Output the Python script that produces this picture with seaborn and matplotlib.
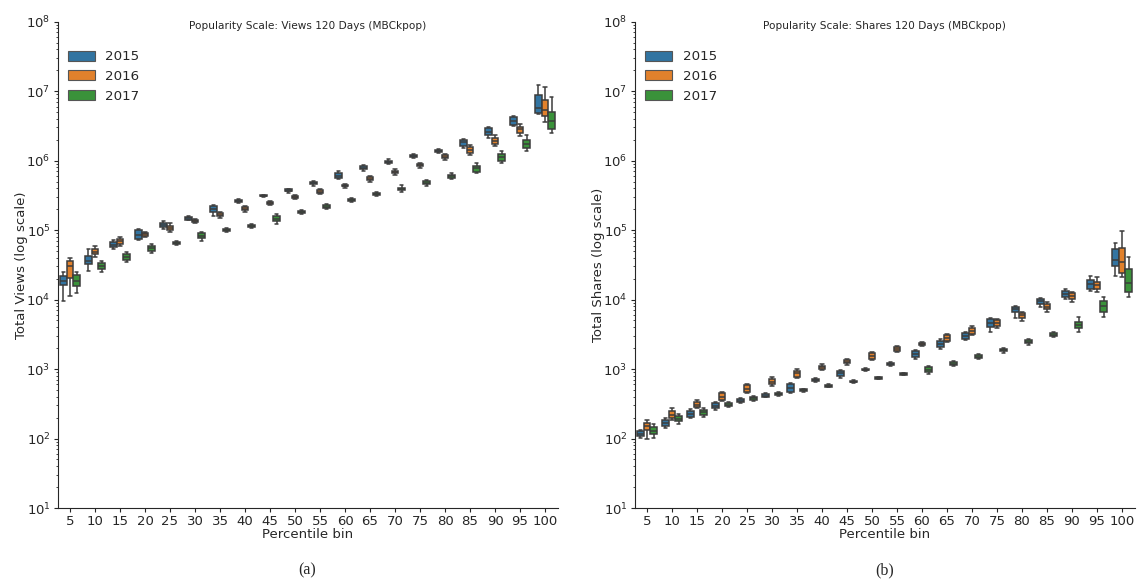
import matplotlib
matplotlib.use("Agg")
import matplotlib.pyplot as plt
from matplotlib.patches import Patch
from matplotlib.ticker import LogLocator, NullFormatter
import pandas as pd
import seaborn as sns

# Percentile bins on the x axis and the upload years used as hue
BINS = ["5", "10", "15", "20", "25", "30", "35", "40", "45", "50",
        "55", "60", "65", "70", "75", "80", "85", "90", "95", "100"]
YEARS = ["2015", "2016", "2017"]

# Five-number summaries per bin: (low whisker, Q1, median, Q3, high whisker)
VIEWS_2015 = [
    (9.5e3, 1.62e4, 1.87e4, 2.2e4, 2.48e4), (2.6e4, 3.23e4, 3.64e4, 4.26e4, 5.3e4),
    (5.4e4, 5.7e4, 6.2e4, 6.8e4, 7.1e4), (7.1e4, 7.4e4, 8.6e4, 1.0e5, 1.05e5),
    (1.04e5, 1.1e5, 1.17e5, 1.26e5, 1.36e5), (1.38e5, 1.42e5, 1.48e5, 1.54e5, 1.58e5),
    (1.62e5, 1.85e5, 2.04e5, 2.23e5, 2.3e5), (2.45e5, 2.55e5, 2.63e5, 2.72e5, 2.82e5),
    (3.0e5, 3.08e5, 3.13e5, 3.17e5, 3.22e5), (3.45e5, 3.6e5, 3.7e5, 3.85e5, 3.95e5),
    (4.35e5, 4.55e5, 4.73e5, 4.95e5, 5.1e5), (5.4e5, 5.65e5, 6.1e5, 6.6e5, 7.2e5),
    (7.2e5, 7.55e5, 7.9e5, 8.3e5, 8.7e5), (8.9e5, 9.3e5, 9.6e5, 1.0e6, 1.04e6),
    (1.08e6, 1.12e6, 1.16e6, 1.2e6, 1.24e6), (1.27e6, 1.32e6, 1.37e6, 1.43e6, 1.48e6),
    (1.51e6, 1.65e6, 1.84e6, 1.95e6, 2.07e6), (2.1e6, 2.34e6, 2.61e6, 2.92e6, 3.02e6),
    (3.16e6, 3.27e6, 3.72e6, 4.21e6, 4.35e6), (4.65e6, 4.8e6, 5.67e6, 8.85e6, 1.23e7),
]
VIEWS_2016 = [
    (1.14e4, 2.07e4, 3.05e4, 3.64e4, 4.0e4), (4.16e4, 4.5e4, 4.9e4, 5.3e4, 5.9e4),
    (5.9e4, 6.3e4, 7.0e4, 7.4e4, 7.9e4), (7.9e4, 8.3e4, 8.7e4, 9.0e4, 9.4e4),
    (9.5e4, 1.0e5, 1.09e5, 1.16e5, 1.26e5), (1.27e5, 1.31e5, 1.36e5, 1.41e5, 1.45e5),
    (1.5e5, 1.58e5, 1.66e5, 1.74e5, 1.82e5), (1.85e5, 1.95e5, 2.04e5, 2.12e5, 2.22e5),
    (2.3e5, 2.4e5, 2.46e5, 2.52e5, 2.6e5), (2.78e5, 2.88e5, 2.97e5, 3.08e5, 3.18e5),
    (3.3e5, 3.45e5, 3.58e5, 3.72e5, 3.85e5), (4.1e5, 4.25e5, 4.36e5, 4.5e5, 4.62e5),
    (5.0e5, 5.2e5, 5.46e5, 5.75e5, 5.95e5), (6.3e5, 6.6e5, 6.9e5, 7.2e5, 7.5e5),
    (7.9e5, 8.25e5, 8.6e5, 9.0e5, 9.4e5), (1.03e6, 1.09e6, 1.14e6, 1.19e6, 1.24e6),
    (1.21e6, 1.28e6, 1.43e6, 1.58e6, 1.68e6), (1.63e6, 1.74e6, 1.94e6, 2.14e6, 2.34e6),
    (2.29e6, 2.53e6, 2.83e6, 3.08e6, 3.4e6), (3.57e6, 4.4e6, 5.37e6, 7.46e6, 1.16e7),
]
VIEWS_2017 = [
    (1.23e4, 1.57e4, 1.87e4, 2.26e4, 2.48e4), (2.5e4, 2.8e4, 3.08e4, 3.4e4, 3.64e4),
    (3.52e4, 3.73e4, 4.1e4, 4.55e4, 4.8e4), (4.74e4, 5.0e4, 5.5e4, 6.0e4, 6.27e4),
    (6.2e4, 6.4e4, 6.6e4, 6.8e4, 7.0e4), (7.06e4, 7.67e4, 8.3e4, 9.06e4, 9.5e4),
    (9.5e4, 9.75e4, 1.0e5, 1.03e5, 1.06e5), (1.08e5, 1.12e5, 1.16e5, 1.2e5, 1.24e5),
    (1.23e5, 1.34e5, 1.46e5, 1.6e5, 1.69e5), (1.68e5, 1.74e5, 1.81e5, 1.89e5, 1.95e5),
    (2.02e5, 2.1e5, 2.18e5, 2.27e5, 2.35e5), (2.52e5, 2.6e5, 2.69e5, 2.78e5, 2.86e5),
    (3.1e5, 3.2e5, 3.32e5, 3.45e5, 3.55e5), (3.55e5, 3.75e5, 3.92e5, 4.1e5, 4.4e5),
    (4.3e5, 4.55e5, 4.78e5, 5.1e5, 5.35e5), (5.5e5, 5.7e5, 5.96e5, 6.3e5, 6.55e5),
    (6.6e5, 6.95e5, 7.8e5, 8.47e5, 9.2e5), (9.2e5, 1.0e6, 1.12e6, 1.25e6, 1.38e6),
    (1.39e6, 1.54e6, 1.72e6, 1.99e6, 2.32e6), (2.48e6, 2.83e6, 3.77e6, 5.07e6, 8.34e6),
]

SHARES_2015 = [
    (101, 107, 118, 129, 133), (141, 152, 166, 182, 196),
    (196, 207, 227, 245, 264), (259, 274, 298, 324, 334),
    (325, 338, 352, 368, 382), (390, 402, 416, 432, 448),
    (450, 470, 542, 612, 640), (650, 672, 692, 715, 735),
    (740, 800, 873, 944, 976), (930, 955, 985, 1015, 1045),
    (1100, 1135, 1175, 1220, 1260), (1403, 1483, 1637, 1811, 1871),
    (1954, 2066, 2281, 2547, 2693), (2630, 2749, 3006, 3289, 3467),
    (3470, 4009, 4571, 5220, 5400), (5400, 6590, 7280, 7930, 8110),
    (7780, 8670, 9580, 10200, 10700), (10300, 10800, 12200, 13300, 14100),
    (13500, 14300, 16700, 19200, 21900), (21900, 30800, 37200, 53100, 64700),
]
SHARES_2016 = [
    (99, 133, 151, 166, 186), (182, 196, 219, 245, 274),
    (274, 283, 308, 337, 361), (349, 361, 402, 459, 474),
    (450, 470, 519, 580, 607), (573, 607, 661, 723, 764),
    (740, 779, 873, 948, 993), (960, 1010, 1064, 1120, 1180),
    (1150, 1210, 1270, 1340, 1400), (1330, 1387, 1532, 1696, 1760),
    (1750, 1840, 1932, 2050, 2150), (2120, 2220, 2301, 2400, 2490),
    (2450, 2547, 2838, 3105, 3200), (3100, 3207, 3581, 3956, 4100),
    (3870, 4100, 4571, 5000, 5220), (4990, 5400, 5970, 6500, 6710),
    (6650, 7280, 7930, 8670, 9350), (9180, 10100, 11300, 12400, 13000),
    (13000, 14300, 16300, 18200, 21400), (21000, 24000, 35200, 54900, 98400),
]
SHARES_2017 = [
    (101, 116, 130, 146, 161), (161, 176, 192, 212, 227),
    (207, 217, 237, 259, 274), (280, 292, 306, 320, 336),
    (350, 363, 377, 392, 405), (415, 428, 440, 455, 468),
    (472, 484, 497, 510, 522), (545, 560, 573, 588, 602),
    (630, 646, 661, 678, 694), (715, 730, 746, 762, 778),
    (815, 832, 851, 870, 888), (851, 913, 973, 1062, 1112),
    (1110, 1150, 1199, 1250, 1290), (1400, 1455, 1514, 1580, 1640),
    (1730, 1800, 1870, 1950, 2030), (2250, 2350, 2460, 2580, 2700),
    (2880, 3000, 3140, 3300, 3440), (3470, 3870, 4365, 4820, 5690),
    (5690, 6710, 8110, 9570, 10800), (10800, 13000, 17600, 27300, 41600),
]


def long_frame(series_by_year):
    rows = []
    for year, boxes in series_by_year.items():
        for label, stats in zip(BINS, boxes):
            for v in stats:
                rows.append((label, year, v))
    return pd.DataFrame(rows, columns=["bin", "year", "value"])


views = long_frame(dict(zip(YEARS, [VIEWS_2015, VIEWS_2016, VIEWS_2017])))
shares = long_frame(dict(zip(YEARS, [SHARES_2015, SHARES_2016, SHARES_2017])))

sns.set_style("ticks")
plt.rcParams["font.family"] = ["DejaVu Sans"]

palette = sns.color_palette("tab10", 3)
line_gray = "#3c3c3c"

W, H = 1137, 588
fig = plt.figure(figsize=(W / 100, H / 100), dpi=100)

panels = [
    (views, "Popularity Scale: Views 120 Days (MBCkpop)", "Total Views (log scale)", 57.5, "(a)"),
    (shares, "Popularity Scale: Shares 120 Days (MBCkpop)", "Total Shares (log scale)", 634.5, "(b)"),
]

for df, title, ylabel, left_px, caption in panels:
    ax = fig.add_axes([left_px / W, 1 - 508 / H, 500 / W, (508 - 21.7) / H])
    sns.boxplot(
        data=df, x="bin", y="value", hue="year",
        order=BINS, hue_order=YEARS, palette=palette,
        whis=(0, 100), showfliers=False, width=0.8,
        linecolor=line_gray, linewidth=1.1, log_scale=True,
        legend=False, ax=ax,
    )
    ax.set_ylim(10, 1e8)
    ax.yaxis.set_major_locator(LogLocator(base=10, numticks=20))
    ax.yaxis.set_minor_locator(LogLocator(base=10, subs=range(2, 10), numticks=20))
    ax.yaxis.set_minor_formatter(NullFormatter())
    ax.tick_params(axis="both", labelsize=9.5, length=3, width=0.8, pad=2)
    ax.tick_params(axis="y", which="minor", length=1.8, width=0.6)
    ax.set_xlabel("Percentile bin", fontsize=9.5, labelpad=0)
    ax.set_ylabel(ylabel, fontsize=9.5, labelpad=-1)
    ax.text(0.5, 0.991, title, transform=ax.transAxes, ha="center", va="center", fontsize=7.6)
    sns.despine(ax=ax)

    handles = [Patch(facecolor=sns.desaturate(c, 0.75), edgecolor="#555555", linewidth=0.8)
               for c in palette]
    ax.legend(handles, YEARS, loc="upper left", bbox_to_anchor=(0.0, 0.963),
              frameon=False, fontsize=9.6, handlelength=2.0, handleheight=0.75,
              labelspacing=0.5, handletextpad=0.8, borderaxespad=0.4)

    fig.text((left_px + 250) / W, 1 - 570 / H, caption, ha="center", va="center",
             fontsize=11.5, family=["Liberation Serif", "DejaVu Serif"])

fig.savefig("out.png", dpi=100)
